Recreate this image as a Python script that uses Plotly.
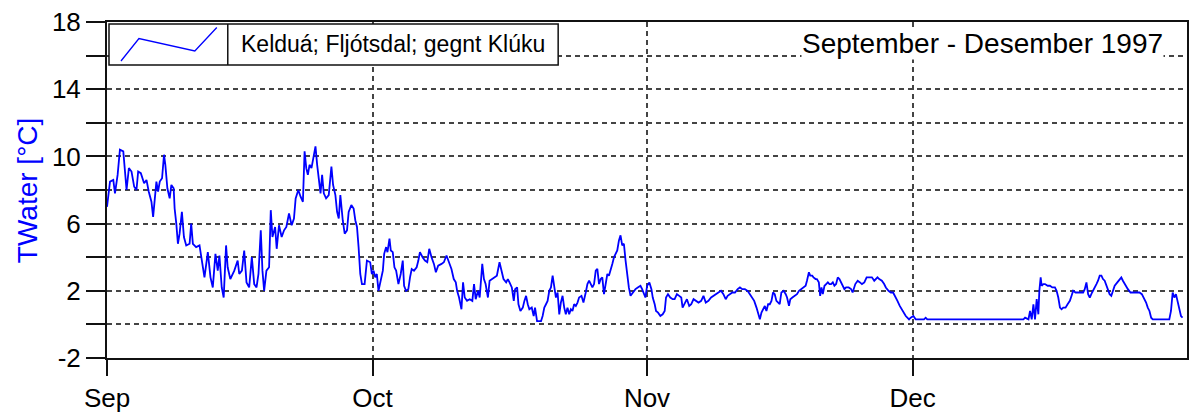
import plotly.graph_objects as go
import pandas as pd

# ---------------- data ----------------
series_name = "Kelduá; Fljótsdal; gegnt Klúku"
period_title = "September - Desember 1997"
y_title = "TWater [°C]"
start_date = "1997-09-01"
end_date = "1998-01-01"

# days since 1997-09-01 00:00
day_offset = [
    0.0, 0.34, 0.71, 0.90, 1.20, 1.46, 1.84, 2.02, 2.21, 2.47, 2.77, 3.07, 3.33, 3.52, 3.82,
    4.19, 4.46, 4.72, 5.02, 5.21, 5.39, 5.58, 5.77, 5.96, 6.22, 6.44, 6.59, 6.82, 7.08, 7.27,
    7.53, 7.64, 7.83, 8.01, 8.20, 8.46, 8.69, 8.95, 9.33, 9.51, 9.70, 10.07, 10.45, 10.64, 11.01,
    11.39, 11.69, 11.95, 12.25, 12.51, 12.70, 12.96, 13.18, 13.45, 13.63, 13.93, 14.38, 14.76,
    14.94, 15.24, 15.50, 15.76, 16.06, 16.36, 16.63, 16.89, 17.11, 17.37, 17.56, 17.75, 18.01,
    18.31, 18.50, 18.69, 18.99, 19.17, 19.43, 19.73, 20.0, 20.26, 20.56, 20.86, 21.12, 21.31,
    21.61, 21.87, 22.13, 22.32, 22.51, 22.69, 22.88, 23.10, 23.37, 23.55, 23.74, 23.93, 24.12,
    24.30, 24.49, 24.75, 25.05, 25.35, 25.54, 25.80, 25.99, 26.18, 26.36, 26.63, 26.85, 27.11,
    27.30, 27.60, 27.86, 28.05, 28.24, 28.42, 28.61, 28.80, 29.10, 29.36, 29.73, 29.92,
    30.11, 30.30, 30.48, 30.67, 30.93, 31.16, 31.31, 31.53, 31.68, 31.91, 32.06, 32.28, 32.47,
    32.66, 32.92, 33.18, 33.41, 33.56, 33.78, 34.04, 34.23, 34.42, 34.68, 34.98, 35.17, 35.35,
    35.65, 35.92, 36.18, 36.40, 36.66, 36.93, 37.15, 37.41, 37.79, 38.05, 38.35, 38.65, 38.91,
    39.17, 39.40, 39.55, 39.77, 40.04, 40.22, 40.41, 40.67, 40.97, 41.27, 41.46, 41.65, 41.91,
    42.10, 42.39, 42.58, 42.77, 43.03, 43.22, 43.52, 43.78, 44.04, 44.34, 44.53, 44.79, 45.09,
    45.28, 45.47, 45.73, 45.95, 46.10, 46.33, 46.48, 46.70, 46.97, 47.15, 47.34, 47.53, 47.71,
    47.98, 48.20, 48.35, 48.58, 48.84, 49.03, 49.21, 49.40, 49.59, 49.77, 49.96, 50.15, 50.34,
    50.52, 50.71, 50.90, 51.09, 51.27, 51.46, 51.65, 51.83, 52.02, 52.21, 52.40, 52.58, 52.77,
    52.96, 53.15, 53.33, 53.60, 53.82, 54.08, 54.27, 54.46, 54.64, 54.83, 55.02, 55.21, 55.39,
    55.58, 55.77, 55.95, 56.14, 56.33, 56.52, 56.70, 56.89, 57.08, 57.27, 57.45, 57.64, 57.83,
    58.01, 58.20, 58.39, 58.58, 58.76, 58.95, 59.14, 59.44, 59.70, 59.96, 60.26,
    60.45, 60.64, 60.82, 61.01, 61.27, 61.50, 61.65, 61.87, 62.02, 62.25, 62.51, 62.77, 63.0,
    63.15, 63.37, 63.63, 63.90, 64.12, 64.38, 64.64, 64.87, 65.02, 65.24, 65.51, 65.77, 66.0,
    66.26, 66.52, 66.82, 67.12, 67.38, 67.64, 67.94, 68.24, 68.50, 68.76, 69.06, 69.36, 69.63,
    69.89, 70.11, 70.38, 70.64, 70.94, 71.24, 71.50, 71.76, 72.06, 72.36, 72.62, 72.88, 73.11,
    73.37, 73.56, 73.75, 73.93, 74.12, 74.31, 74.49, 74.68, 74.87, 75.06, 75.24, 75.43,
    75.62, 75.81, 75.99, 76.18, 76.44, 76.67, 76.82, 77.04, 77.19, 77.42, 77.68, 77.94, 78.17,
    78.43, 78.69, 78.92, 79.07, 79.29, 79.44, 79.66, 79.81, 80.04, 80.19, 80.41, 80.56, 80.71,
    80.86, 81.05, 81.24, 81.43, 81.61, 81.80, 81.99, 82.17, 82.36, 82.55, 82.74, 82.92, 83.11,
    83.30, 83.49, 83.78, 84.05, 84.23, 84.53, 84.80, 85.06, 85.28, 85.55, 85.81, 86.11, 86.41,
    86.67, 86.86, 87.04, 87.23, 87.53, 87.79, 87.98, 88.28, 88.54, 88.80, 89.03, 89.29, 89.55,
    89.78, 90.04, 90.23, 90.41, 90.60,
    90.79, 91.09, 91.35, 92.29, 92.48, 92.66, 103.52, 103.71, 104.09, 104.27, 104.46, 104.65,
    104.83, 105.02, 105.21, 105.32, 105.47, 105.58, 105.77,
    105.96, 106.26, 106.52, 106.78, 107.08, 107.27, 107.46, 107.65, 107.83, 108.02, 108.28,
    108.51, 108.77, 108.96, 109.14, 109.41, 109.71, 110.0, 110.27, 110.45, 110.64, 110.83,
    111.02, 111.28, 111.50, 111.77, 111.95, 112.14, 112.33, 112.51, 112.70, 112.89, 113.08,
    113.26, 113.45, 113.64, 113.83, 114.13, 114.39, 114.58, 114.76, 114.95, 115.14, 115.32,
    115.62, 115.89, 116.26, 116.63, 116.90, 117.12, 117.38, 117.57, 117.76, 117.95, 118.13,
    120.0, 120.19, 120.38, 120.57, 120.75, 120.94, 121.13, 121.32, 121.50,
]

twater = [
    7.0, 8.5, 8.6, 7.8, 8.9, 10.4, 10.3, 9.1, 8.0, 9.3, 9.1, 8.2, 8.0, 9.1, 9.0,
    8.4, 8.6, 7.9, 7.3, 6.4, 7.7, 8.5, 7.9, 8.5, 8.7, 10.1, 9.5, 8.1, 7.5, 8.3,
    8.1, 6.9, 6.0, 4.8, 5.4, 6.7, 5.2, 4.7, 4.8, 6.0, 4.8, 4.6, 4.7, 4.0, 2.8,
    4.3, 2.8, 2.2, 4.2, 3.2, 4.1, 2.2, 1.6, 4.7, 3.4, 2.7, 3.2, 3.8,
    3.0, 3.2, 4.4, 2.5, 2.2, 4.0, 2.4, 2.2, 3.0, 5.6, 3.2, 2.0, 3.2,
    3.4, 6.8, 5.2, 5.8, 4.5, 5.9, 5.2, 5.6, 5.8, 6.6, 5.9, 6.3, 7.5,
    8.0, 7.6, 7.3, 10.3, 9.3, 8.9, 9.5, 9.3, 10.0, 10.6, 9.5, 8.5, 7.8,
    8.9, 7.8, 7.5, 7.7, 9.4, 8.3, 7.7, 6.7, 6.3, 7.7, 6.2, 5.4, 5.6,
    6.7, 7.1, 6.9, 6.2, 5.8, 4.6, 3.0, 2.4, 2.4, 3.8, 3.7, 3.0,
    3.2, 2.8, 3.0, 2.0, 2.6, 3.2, 4.2, 4.6, 4.3, 5.1, 4.4, 4.3, 3.4,
    3.2, 2.4, 3.0, 3.8, 2.3, 2.0, 2.1, 2.8, 3.3, 3.2, 3.4, 3.8, 4.3,
    4.0, 3.8, 3.7, 4.5, 4.0, 3.6, 3.1, 3.5, 3.6, 3.7, 4.1, 3.6, 3.3,
    2.7, 2.5, 2.0, 1.6, 0.9, 2.5, 1.6, 1.4, 1.5, 1.4, 2.4, 1.5, 2.0,
    1.6, 3.6, 2.7, 2.4, 1.6, 2.6, 2.7, 2.8, 2.9, 3.7, 3.2, 2.7, 2.5,
    2.7, 2.5, 2.2, 1.4, 2.1, 2.2, 1.2, 0.8, 1.0, 1.4, 1.7, 1.2, 0.9,
    1.0, 0.5, 1.0, 0.2, 0.2, 0.2, 0.5, 1.0, 1.2, 1.4, 2.0, 2.2, 2.9,
    2.1, 1.6, 1.9, 0.6, 1.3, 1.7, 1.0, 0.6, 1.0, 0.6, 0.9, 0.8, 1.2,
    1.1, 1.3, 1.6, 1.7, 1.3, 1.9, 2.4, 2.6, 2.4, 2.2, 2.4, 3.2, 3.3,
    2.4, 2.7, 2.8, 1.8, 2.4, 3.0, 2.9, 3.2, 3.6, 4.0, 4.2, 4.4, 5.0,
    5.3, 4.7, 4.8, 3.8, 3.0, 2.2, 1.7, 1.9, 2.1, 2.2, 2.3,
    2.1, 1.8, 1.6, 2.3, 2.5, 2.1, 1.6, 1.2, 0.8, 0.7, 0.5, 0.6, 0.8,
    1.6, 1.8, 1.6, 1.5, 1.5, 1.8, 1.7, 1.6, 1.0, 1.2, 1.5, 1.1, 1.2,
    1.5, 1.4, 1.3, 1.4, 1.7, 1.3, 1.4, 1.6, 1.7, 1.8, 1.9, 2.0, 1.8,
    1.5, 1.7, 1.8, 1.9, 1.9, 2.1, 2.2, 2.1, 2.1, 2.0, 1.8, 1.6, 1.4,
    1.0, 0.6, 0.3, 0.7, 0.9, 1.1, 0.8, 1.2, 1.2, 1.4, 1.9, 1.8,
    1.4, 1.3, 1.2, 1.9, 2.0, 1.8, 1.6, 1.1, 1.5, 1.6, 1.7, 1.8, 2.0,
    2.1, 2.2, 2.3, 2.6, 3.1, 2.9, 2.9, 2.8, 2.7, 2.7, 2.5, 1.7, 2.2,
    1.8, 2.3, 2.4, 2.5, 2.4, 2.4, 2.5, 2.3, 2.4, 2.8, 2.7, 2.5, 2.3,
    2.1, 2.2, 2.2, 2.1, 1.9, 2.4, 2.6, 2.5, 2.4, 2.5, 2.8, 2.8, 2.8,
    2.6, 2.7, 2.8, 2.7, 2.6, 2.4, 2.2, 2.0, 1.9, 1.9, 1.7, 1.4, 1.1,
    0.9, 0.6, 0.5, 0.4, 0.3,
    0.4, 0.5, 0.3, 0.3, 0.4, 0.3, 0.3, 0.4, 0.3, 0.8, 0.3, 1.2,
    0.3, 1.5, 0.6, 2.0, 2.8, 2.3, 2.4,
    2.4, 2.3, 2.3, 2.2, 2.2, 2.0, 1.6, 1.0, 0.9, 1.0, 1.0,
    1.2, 1.4, 1.7, 2.0, 1.9, 1.9, 1.9, 1.9, 2.1, 2.5, 1.8,
    1.6, 1.9, 2.1, 2.4, 2.6, 2.9, 2.9, 2.7, 2.6, 2.3, 2.1,
    1.8, 1.7, 2.0, 2.3, 2.5, 2.7, 2.8, 2.6, 2.4, 2.2, 2.1,
    1.9, 1.9, 1.9, 1.9, 1.8, 1.6, 1.3, 1.0, 0.8, 0.4, 0.3,
    0.3, 0.8, 1.9, 1.6, 1.8, 1.4, 0.9, 0.5, 0.4,
]

month_ticks = ["1997-09-01", "1997-10-01", "1997-11-01", "1997-12-01"]
month_labels = ["Sep", "Oct", "Nov", "Dec"]
y_tick_vals = [-2, 0, 2, 4, 6, 8, 10, 12, 14, 16, 18]
y_tick_text = ["-2", "", "2", "", "6", "", "10", "", "14", "", "18"]

# ---------------- figure ----------------
W, H = 1190, 418
L, R, T, B = 107, 1, 22, 60
PW, PH = W - L - R, H - T - B


def px(x):
    return (x - L) / PW


def py(y):
    return (H - B - y) / PH


x_dates = pd.Timestamp(start_date) + pd.to_timedelta(day_offset, unit="D")

fig = go.Figure()
fig.add_trace(go.Scatter(
    x=x_dates, y=twater, mode="lines", name=series_name, showlegend=False,
    line=dict(color="#0000FF", width=1.8),
))

FONT = "Liberation Sans, Arial, sans-serif"
AX = "#111111"
GRID = "#444444"

fig.update_layout(
    width=W, height=H,
    margin=dict(l=L, r=R, t=T, b=B),
    paper_bgcolor="white", plot_bgcolor="white",
    font=dict(family=FONT, color="black"),
    showlegend=False,
)
fig.update_xaxes(
    type="date", range=[start_date, end_date],
    tickmode="array", tickvals=month_ticks, ticktext=month_labels,
    ticks="outside", ticklen=16, tickwidth=2, tickcolor=AX,
    showline=True, linecolor=AX, linewidth=2, mirror=True,
    showgrid=True, gridcolor=GRID, gridwidth=1.5, griddash="5px,4px",
    tickfont=dict(size=26, family=FONT, color="black"), zeroline=False,
)
fig.update_yaxes(
    range=[-2, 18],
    tickmode="array", tickvals=y_tick_vals, ticktext=y_tick_text,
    ticks="outside", ticklen=19, tickwidth=2, tickcolor=AX,
    showline=True, linecolor=AX, linewidth=2, mirror=True,
    showgrid=True, gridcolor=GRID, gridwidth=1.5, griddash="5px,4px",
    tickfont=dict(size=26, family=FONT, color="black"), zeroline=False,
)

# legend box drawn by hand (zig-zag glyph like the original)
fig.add_shape(type="rect", xref="paper", yref="paper",
              x0=px(109), x1=px(559), y0=py(65), y1=py(24),
              fillcolor="white", line=dict(color="#111", width=1.5), layer="above")
fig.add_shape(type="line", xref="paper", yref="paper",
              x0=px(228), x1=px(228), y0=py(65), y1=py(24),
              line=dict(color="#111", width=1.5), layer="above")
glyph = [(121, 61), (139, 38.5), (195, 51), (217, 27.5)]
path = "M " + " L ".join(f"{px(a)},{py(b)}" for a, b in glyph)
fig.add_shape(type="path", xref="paper", yref="paper", path=path,
              line=dict(color="#0000FF", width=1.3), layer="above")
fig.add_annotation(xref="paper", yref="paper", x=px(239), y=py(44),
                   xanchor="left", yanchor="middle", showarrow=False,
                   text=series_name, font=dict(size=23, family=FONT, color="black"))

# period title with white background over grid
fig.add_annotation(xref="paper", yref="paper", x=px(1166), y=py(43),
                   xanchor="right", yanchor="middle", showarrow=False,
                   text=period_title, bgcolor="white", borderpad=0,
                   font=dict(size=28, family=FONT, color="black"))

# y-axis title
fig.add_annotation(xref="paper", yref="paper", x=px(27), y=py(190),
                   xanchor="center", yanchor="middle", showarrow=False,
                   textangle=-90, text=y_title,
                   font=dict(size=28, family=FONT, color="#0000FF"))

fig.write_html(
    "out.html",
    config={"displayModeBar": False},
    post_script="document.body.style.margin='0';document.body.style.overflow='hidden';",
)
